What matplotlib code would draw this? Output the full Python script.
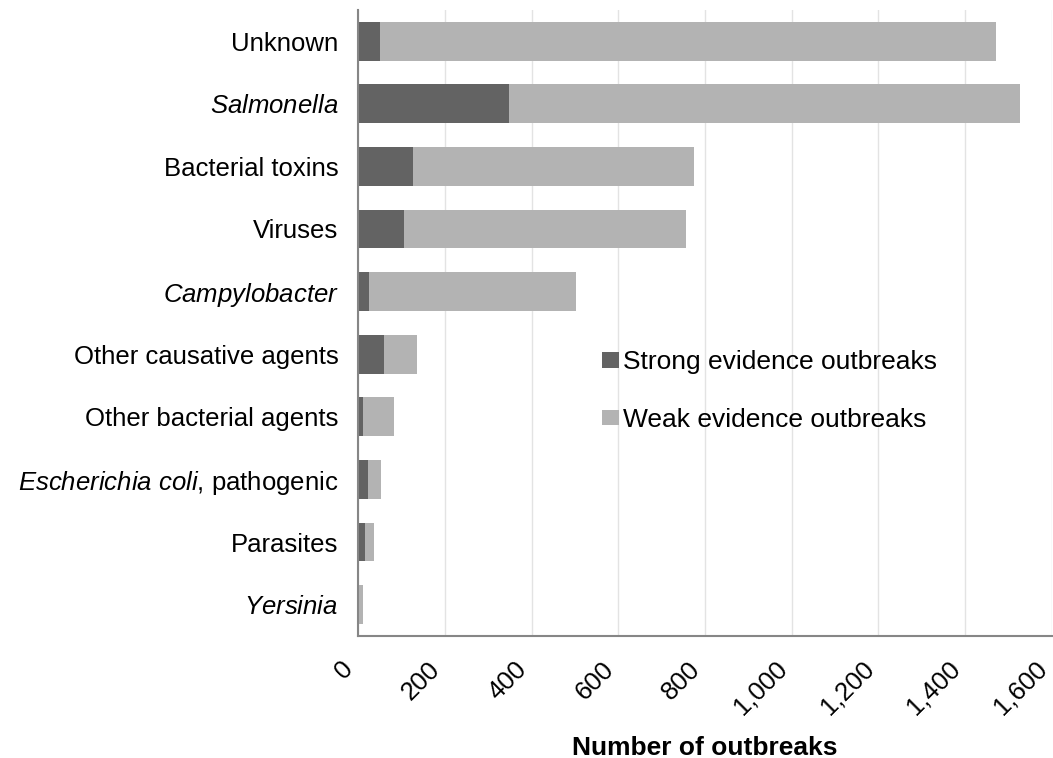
import matplotlib.pyplot as plt
import numpy as np

# Dati
categories = ['Unknown', '$\\it{Salmonella}$', 'Bacterial toxins', 'Viruses',
              '$\\it{Campylobacter}$', 'Other causative agents', 'Other bacterial agents',
              '$\\it{Escherichia\\ coli}$, pathogenic', 'Parasites', '$\\it{Yersinia}$']
strong = [51, 347, 127, 107, 26, 60, 12, 22, 17, 1]
weak = [1419, 1179, 648, 650, 476, 76, 70, 31, 20, 11]
xticks = [0, 200, 400, 600, 800, 1000, 1200, 1400, 1600]

plt.rcParams['font.family'] = ['Liberation Sans', 'DejaVu Sans']
plt.rcParams['mathtext.fontset'] = 'custom'
plt.rcParams['mathtext.rm'] = 'Liberation Sans'
plt.rcParams['mathtext.it'] = 'Liberation Sans:italic'

fig = plt.figure(figsize=(10.53, 7.58), dpi=100)
ax = fig.add_axes([0.340, 0.161, 0.659, 0.826])

y = np.arange(len(categories))
ax.barh(y, strong, height=0.62, color='#636363', label='Strong evidence outbreaks')
ax.barh(y, weak, left=strong, height=0.62, color='#b3b3b3', label='Weak evidence outbreaks')

ax.set_ylim(len(categories) - 0.5, -0.5)
ax.set_xlim(0, 1600)
ax.set_yticks(y)
ax.set_yticklabels(categories, fontsize=18.5)
ax.set_xticks(xticks)
ax.set_xticklabels([f'{v:,}' for v in xticks], fontsize=18.5, rotation=45, ha='right')
ax.tick_params(axis='both', length=0)
ax.tick_params(axis='y', pad=14)
ax.tick_params(axis='x', pad=15)

ax.set_axisbelow(True)
ax.grid(True, axis='x', color='#e3e3e3', linewidth=1)
for s in ['top', 'right']:
    ax.spines[s].set_visible(False)
for s in ['left', 'bottom']:
    ax.spines[s].set_color('#868686')
    ax.spines[s].set_linewidth(1.5)

ax.set_xlabel('Number of outbreaks', fontsize=19, fontweight='bold', labelpad=12)

ax.legend(loc='center left', bbox_to_anchor=(0.572, 0.484), bbox_transform=fig.transFigure,
          frameon=False, fontsize=19, borderpad=0, borderaxespad=0,
          handlelength=0.65, handleheight=0.5, handletextpad=0.12, labelspacing=1.27)

fig.savefig('out.png', dpi=100)
